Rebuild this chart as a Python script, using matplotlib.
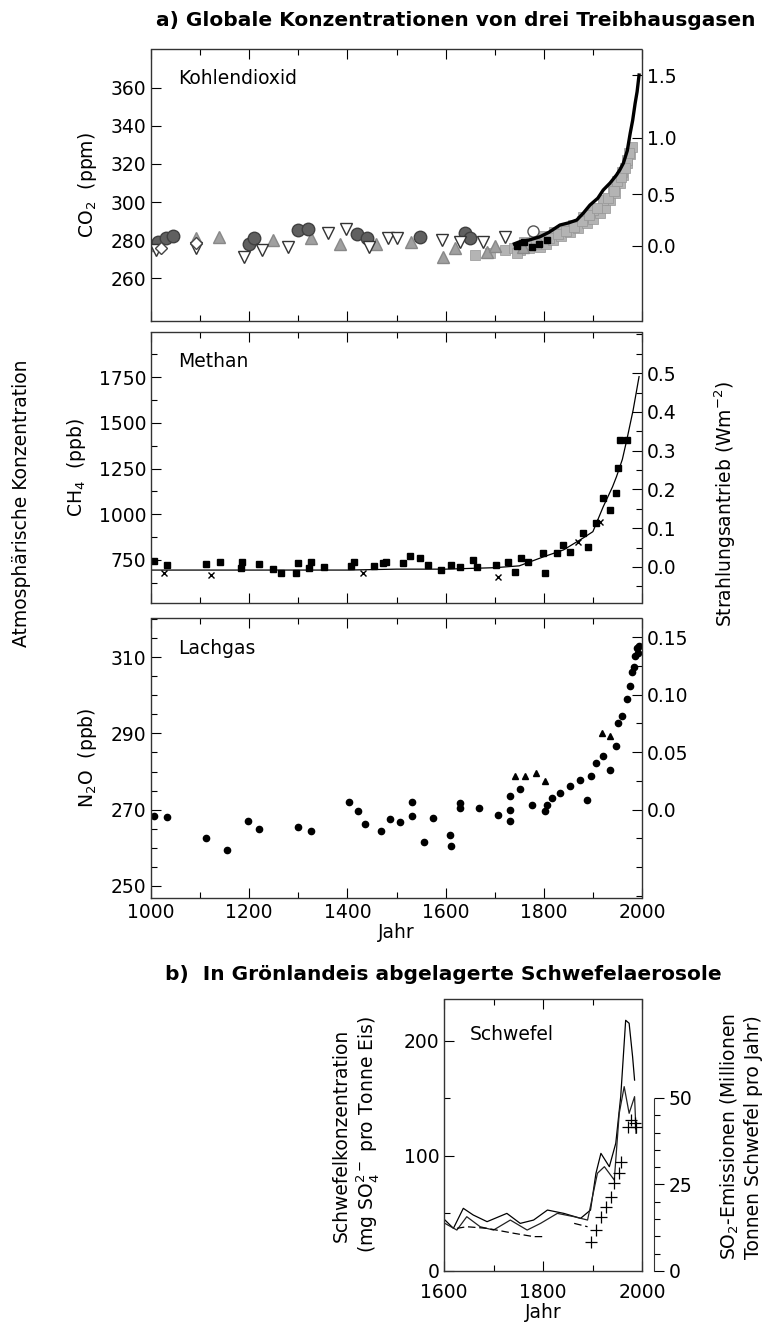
import matplotlib.pyplot as plt
from matplotlib.ticker import MultipleLocator, FixedLocator
import numpy as np

W, H = 766, 1326

# ---- CO2 (ppm) ----
co2_opentri_year = [1010, 1091, 1190, 1227, 1280, 1360, 1398, 1445, 1482, 1500, 1592, 1629, 1676, 1720]
co2_opentri_val = [274.7, 276, 271.2, 274.7, 276.5, 283.6, 286, 276.5, 281, 281, 280, 279, 279, 281.7]
co2_circle_year = [1015, 1030, 1045, 1200, 1210, 1300, 1320, 1420, 1440, 1547, 1640, 1650]
co2_circle_val = [279, 281, 282, 278, 281, 285.3, 286, 283, 281, 281.7, 283.6, 281]
co2_graytri_year = [1003, 1091, 1139, 1248, 1326, 1384, 1458, 1530, 1594, 1620, 1684, 1700, 1758]
co2_graytri_val = [277.5, 281, 281.7, 280, 281, 278, 278, 279, 271.2, 276, 273.9, 277, 276.5]
co2_diamond_year = [1020, 1092]
co2_diamond_val = [276, 278.4]
co2_opencirc_year = [1778]
co2_opencirc_val = [285]
co2_sq_year = [1660, 1690, 1720, 1740, 1751, 1770, 1792, 1805, 1819, 1835, 1853, 1870, 1887,
               1900, 1914, 1925, 1935, 1945, 1955, 1962, 1969, 1975, 1979,
               1760, 1780, 1800, 1820, 1840, 1860, 1880, 1900, 1920, 1940, 1950, 1960, 1970,
               1745, 1765, 1785, 1810, 1828, 1845, 1862, 1878, 1893, 1908, 1930, 1942, 1958, 1966, 1973]
co2_sq_val = [272, 273, 275, 276, 274.7, 276, 276.5, 278, 280, 282, 284.4, 286.5, 288.8,
              291, 294, 297, 301, 305, 309.8, 314, 320.4, 325, 329.1,
              279, 280, 282, 284, 286, 288, 292, 296, 301, 307, 311, 316, 322,
              273, 278, 278, 281, 283, 285, 287, 290, 293, 297, 302, 306, 313, 318, 326]
co2_black_year = [1745, 1760, 1775, 1790, 1806]
co2_black_val = [277, 279, 276.5, 278, 280]
co2_line_year = [1740, 1751, 1770, 1792, 1810, 1833, 1850, 1867, 1880, 1894, 1910, 1921, 1935,
                 1948, 1955, 1962, 1970, 1976, 1981, 1986, 1990, 1994]
co2_line_val = [278, 279.1, 280, 281.7, 284, 287.9, 289, 290.5, 294, 298.4, 302, 306.3, 310,
                314.2, 317, 320.4, 327, 336.2, 343, 351.9, 358, 366.8]

# ---- CH4 (ppb) ----
ch4_pt_year = [1006, 1033, 1112, 1141, 1186, 1184, 1220, 1248, 1265, 1295, 1299, 1326, 1321, 1353,
               1408, 1414, 1455, 1472, 1479, 1513, 1527, 1547, 1564, 1591, 1612, 1629, 1656, 1663,
               1703, 1727, 1741, 1754, 1768, 1799, 1802, 1826, 1839, 1853, 1880, 1890, 1907, 1921,
               1935, 1948, 1952, 1955, 1969]
ch4_pt_val = [746, 723, 726, 741, 741, 706, 726, 699, 679, 679, 732, 741, 706, 713,
              717, 741, 717, 732, 741, 732, 772, 759, 723, 695, 723, 713, 750, 713,
              723, 741, 686, 759, 741, 786, 677, 786, 832, 795, 896, 823, 950, 1087,
              1023, 1114, 1251, 1406, 1406]
ch4_x_year = [1027, 1122, 1431, 1706, 1870, 1915]
ch4_x_val = [679, 668, 679, 659, 850, 960]
ch4_line_year = [1000, 1100, 1200, 1300, 1400, 1500, 1600, 1700, 1750, 1800, 1840, 1880, 1900,
                 1921, 1940, 1948, 1960, 1969, 1982, 1994]
ch4_line_val = [695, 695, 695, 695, 695, 700, 700, 708, 718, 768, 805, 870, 905,
                1041, 1150, 1205, 1300, 1406, 1570, 1752]

# ---- N2O (ppb) ----
n2o_year = [1006, 1033, 1112, 1154, 1197, 1220, 1299, 1326, 1404, 1421, 1435, 1469, 1486, 1507,
            1532, 1532, 1557, 1574, 1608, 1610, 1629, 1629, 1669, 1707, 1731, 1731, 1731, 1751,
            1775, 1802, 1806, 1816, 1833, 1853, 1873, 1887, 1897, 1907, 1921, 1935, 1948, 1952,
            1959, 1969, 1976, 1979, 1983, 1986, 1989, 1991, 1993]
n2o_val = [268.2, 268.1, 262.6, 259.5, 267, 265, 265.4, 264.3, 271.9, 269.7, 266.2, 264.3, 267.6, 266.8,
           271.9, 268.2, 261.5, 267.8, 263.4, 260.5, 271.8, 270.4, 270.4, 268.7, 267, 269.8, 273.5, 275.3,
           271.1, 269.6, 271.3, 273.1, 274.4, 276.1, 277.9, 272.6, 278.8, 282.2, 284, 280.5, 286.7, 292.8,
           294.6, 299, 302.4, 306, 307.5, 310.3, 312.5, 311, 313]
n2o_tri_year = [1741, 1761, 1785, 1802, 1918, 1935]
n2o_tri_val = [278.8, 278.8, 279.6, 277.5, 290.2, 289.3]

# ---- Schwefel (Groenland) ----
s_a_year = [1602, 1619, 1639, 1659, 1687, 1727, 1754, 1781, 1809, 1842, 1876, 1896, 1907, 1917,
            1934, 1947, 1957, 1967, 1974, 1981, 1985]
s_a_val = [44.3, 37.1, 54.5, 48.7, 42.9, 50.1, 41.4, 44.3, 53, 50.1, 45.8, 53, 85, 102.3,
           90.7, 111, 151.6, 218, 215.4, 186.3, 166]
s_b_year = [1602, 1626, 1646, 1673, 1700, 1734, 1768, 1795, 1829, 1863, 1890, 1910, 1924, 1944,
            1954, 1964, 1974, 1985, 1988]
s_b_val = [41.4, 35.6, 47.2, 38.5, 35.6, 44.3, 35.6, 41.4, 50.1, 47.2, 44.3, 85, 90.7, 79.1,
           137.1, 160.3, 137.1, 151.6, 119.7]
s_c_year = [1626, 1646, 1687, 1741, 1781, 1802, np.nan, 1863, 1890]
s_c_val = [37.1, 38.5, 37.1, 32.8, 29.9, 29.9, np.nan, 41.4, 38.5]
so2_year = [1896, 1907, 1917, 1927, 1937, 1944, 1954, 1957, 1971, 1977, 1985, 1988]
so2_val = [8.5, 11.8, 15.7, 18.6, 21.5, 25.3, 28.2, 31.6, 41.7, 43.6, 42.7, 41.7]

co2_ticks = [260, 280, 300, 320, 340, 360]
co2_rf_ticks = [0.0, 0.5, 1.0, 1.5]
ch4_ticks = [750, 1000, 1250, 1500, 1750]
ch4_rf_ticks = [0.0, 0.1, 0.2, 0.3, 0.4, 0.5]
n2o_ticks = [250, 270, 290, 310]
n2o_rf_ticks = [0.0, 0.05, 0.10, 0.15]
year_ticks = [1000, 1200, 1400, 1600, 1800, 2000]

FS = 13.5


def box(l, t, r, b):
    return [l / W, 1 - b / H, (r - l) / W, (b - t) / H]


def frame(ax):
    for s in ax.spines.values():
        s.set_linestyle((0, (1, 1)))
        s.set_linewidth(1.0)
        s.set_color('#333333')
    ax.tick_params(which='both', direction='in', top=True, labelsize=FS, width=0.8)
    ax.tick_params(which='major', length=7)
    ax.tick_params(which='minor', length=4)


def panel(ax, ylim, ticks, minor, label, name, fwd, inv, rf_ticks, rf_labels, rf_minor):
    ax.set_xlim(1000, 2000)
    ax.set_ylim(*ylim)
    ax.set_yticks(ticks)
    ax.yaxis.set_minor_locator(MultipleLocator(minor) if minor else FixedLocator([]))
    ax.xaxis.set_major_locator(MultipleLocator(200))
    ax.xaxis.set_minor_locator(MultipleLocator(100))
    ax.set_ylabel(label, fontsize=FS, labelpad=8)
    ax.text(0.055, 0.89, name, transform=ax.transAxes, fontsize=FS, va='center')
    frame(ax)
    sec = ax.secondary_yaxis('right', functions=(fwd, inv))
    sec.set_yticks(rf_ticks)
    sec.set_yticklabels(rf_labels)
    if rf_minor:
        sec.yaxis.set_minor_locator(MultipleLocator(rf_minor))
    sec.tick_params(which='both', direction='in', labelsize=FS, width=0.8)
    sec.tick_params(which='major', length=7)
    sec.tick_params(which='minor', length=4)
    sec.spines['right'].set_visible(False)
    return sec


def main():
    plt.rcParams['font.family'] = ['DejaVu Sans']
    plt.rcParams['mathtext.fontset'] = 'dejavusans'
    fig = plt.figure(figsize=(W / 100, H / 100), dpi=100)

    # a) CO2
    ax1 = fig.add_axes(box(151, 49, 642, 321))
    ax1.plot(co2_sq_year, co2_sq_val, 's', ms=7, color='#b4b4b4', mec='#959595', mew=0.5)
    ax1.plot(co2_graytri_year, co2_graytri_val, '^', ms=8, color='#a0a0a0', mec='#888888')
    ax1.plot(co2_circle_year, co2_circle_val, 'o', ms=9, color='#606060', mec='#404040')
    ax1.plot(co2_opentri_year, co2_opentri_val, 'v', ms=8, mfc='white', mec='#333333', mew=1)
    ax1.plot(co2_diamond_year, co2_diamond_val, 'D', ms=6, mfc='white', mec='#444444', mew=1)
    ax1.plot(co2_opencirc_year, co2_opencirc_val, 'o', ms=8, mfc='white', mec='#555555', mew=1)
    ax1.plot(co2_black_year, co2_black_val, 's', ms=5, color='black')
    ax1.plot(co2_line_year, co2_line_val, '-', lw=2.4, color='black')
    panel(ax1, (237.4, 380.5), co2_ticks, None, 'CO$_2$  (ppm)', 'Kohlendioxid',
          lambda c: 5.35 * np.log(np.clip(c, 1, None) / 277.0),
          lambda f: 277.0 * np.exp(f / 5.35),
          co2_rf_ticks, ['0.0', '0.5', '1.0', '1.5'], None)
    ax1.set_xticks(year_ticks)
    ax1.tick_params(labelbottom=False)

    # CH4
    ax2 = fig.add_axes(box(151, 332, 642, 603))
    ax2.plot(ch4_line_year, ch4_line_val, '-', lw=0.9, color='black')
    ax2.plot(ch4_pt_year, ch4_pt_val, 's', ms=4.5, color='black')
    ax2.plot(ch4_x_year, ch4_x_val, 'x', ms=4, color='black', mew=1)
    panel(ax2, (515, 1996), ch4_ticks, 125, 'CH$_4$  (ppb)', 'Methan',
          lambda m: (m - 712.0) / 2118.0,
          lambda f: f * 2118.0 + 712.0,
          ch4_rf_ticks, ['0.0', '0.1', '0.2', '0.3', '0.4', '0.5'], 0.05)
    ax2.set_xticks(year_ticks)
    ax2.tick_params(labelbottom=False)

    # N2O
    ax3 = fig.add_axes(box(151, 618, 642, 898))
    ax3.plot(n2o_year, n2o_val, 'o', ms=4.5, color='black')
    ax3.plot(n2o_tri_year, n2o_tri_val, '^', ms=4, color='black')
    panel(ax3, (246.8, 320.3), n2o_ticks, 5, 'N$_2$O  (ppb)', 'Lachgas',
          lambda n: (n - 270.0) / 302.0,
          lambda f: f * 302.0 + 270.0,
          n2o_rf_ticks, ['0.0', '0.05', '0.10', '0.15'], 0.025)
    ax3.set_xticks(year_ticks)
    ax3.set_xticklabels([str(y) for y in year_ticks])
    ax3.set_xlabel('Jahr', fontsize=FS, labelpad=1)

    fig.text(456 / W, 1 - 20 / H, 'a) Globale Konzentrationen von drei Treibhausgasen',
             fontsize=14.5, fontweight='bold', ha='center', va='center')
    fig.text(22 / W, 1 - 503 / H, 'Atmosphärische Konzentration', fontsize=FS,
             rotation=90, ha='center', va='center')
    fig.text(725 / W, 1 - 504 / H, 'Strahlungsantrieb (Wm$^{-2}$)', fontsize=FS,
             rotation=90, ha='center', va='center')

    # b) Schwefel
    ax4 = fig.add_axes(box(444, 999, 642, 1271))
    ax4.plot(s_a_year, s_a_val, '-', lw=0.9, color='black')
    ax4.plot(s_b_year, s_b_val, '-', lw=0.9, color='#222222')
    ax4.plot(s_c_year, s_c_val, '--', lw=0.9, color='black', dashes=(6, 3))
    ax4.set_xlim(1600, 2000)
    ax4.set_ylim(0, 236.5)
    ax4.set_xticks([1600, 1800, 2000])
    ax4.xaxis.set_minor_locator(MultipleLocator(100))
    ax4.set_yticks([0, 100, 200])
    ax4.yaxis.set_minor_locator(MultipleLocator(50))
    frame(ax4)
    ax4.tick_params(which='both', right=False)
    ax4.tick_params(axis='x', pad=9)
    ax4.set_xlabel('Jahr', fontsize=FS, labelpad=0)
    ax4.set_ylabel('Schwefelkonzentration\n(mg SO$_4^{2-}$ pro Tonne Eis)', fontsize=FS,
                   labelpad=16, linespacing=1.2)
    ax4.text(0.13, 0.87, 'Schwefel', transform=ax4.transAxes, fontsize=FS, va='center')

    ax5 = ax4.twinx()
    ax5.plot(so2_year, so2_val, '+', ms=9, color='black', mew=0.9)
    ax5.set_ylim(0, 78.6)
    for s in ['top', 'left', 'bottom']:
        ax5.spines[s].set_visible(False)
    ax5.spines['right'].set_position(('outward', 8.6))
    ax5.spines['right'].set_bounds(0, 50)
    ax5.spines['right'].set_linestyle((0, (1, 1)))
    ax5.spines['right'].set_color('#333333')
    ax5.set_yticks([0, 25, 50])
    ax5.yaxis.set_minor_locator(FixedLocator(list(range(0, 51, 5))))
    ax5.tick_params(which='both', direction='out', labelsize=FS, width=0.8)
    ax5.tick_params(which='major', length=7)
    ax5.tick_params(which='minor', length=4)
    fig.text(741 / W, 1 - 1137 / H, 'SO$_2$-Emissionen (Millionen\nTonnen Schwefel pro Jahr)',
             fontsize=FS, rotation=90, ha='center', va='center', linespacing=1.2)

    fig.text(443 / W, 1 - 975 / H, 'b)  In Grönlandeis abgelagerte Schwefelaerosole',
             fontsize=14.5, fontweight='bold', ha='center', va='center')

    fig.savefig('out.png', dpi=100)


if __name__ == '__main__':
    main()
